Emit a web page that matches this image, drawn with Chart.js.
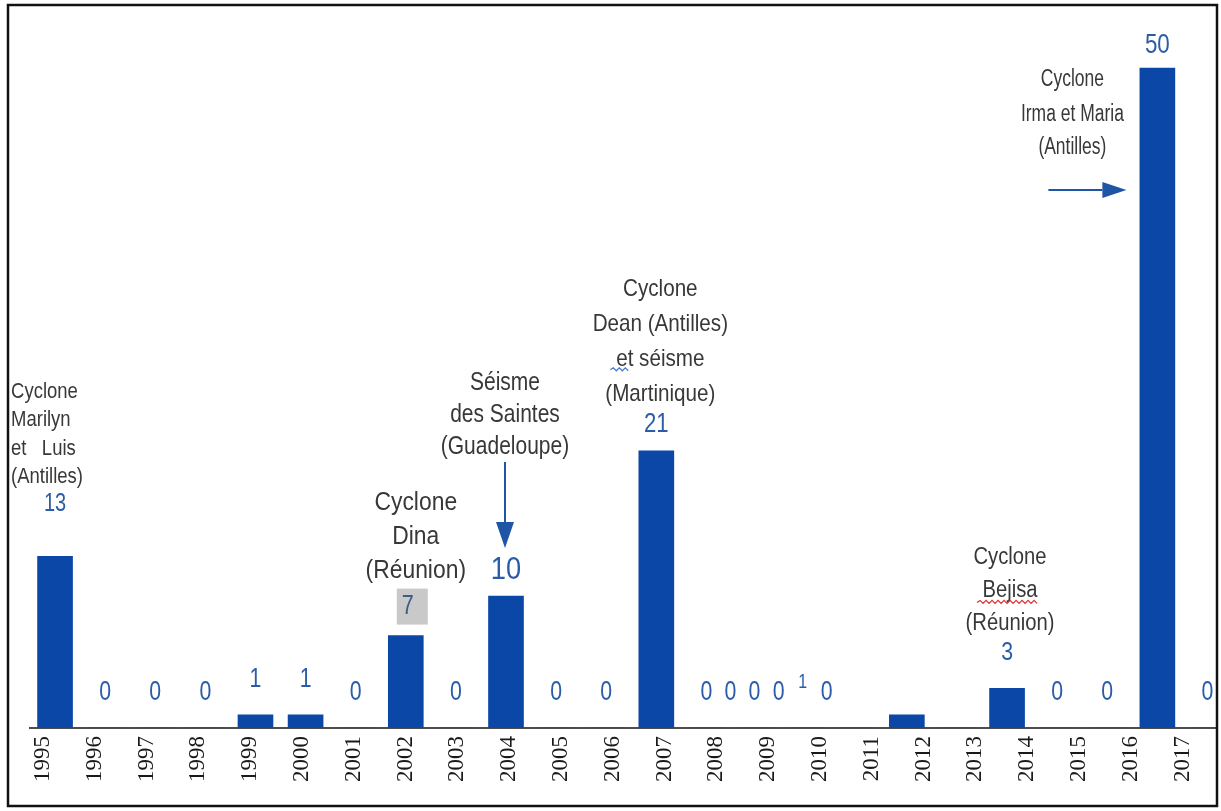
<!DOCTYPE html>
<html lang="fr">
<head>
<meta charset="utf-8">
<title>Décès liés aux catastrophes naturelles en outre-mer</title>
<script src="https://cdn.jsdelivr.net/npm/chart.js@4.4.1/dist/chart.umd.min.js"></script>
<style>
  html, body { margin: 0; padding: 0; background: #ffffff; }
  #wrap { width: 1221px; height: 811px; position: relative; }
  canvas { display: block; }
</style>
</head>
<body>
<div id="wrap"><canvas id="chart" width="1221" height="811"></canvas></div>
<script>
// Années affichées sous l'axe
const axisYears = ['1995','1996','1997','1998','1999','2000','2001','2002','2003','2004','2005',
                   '2006','2007','2008','2009','2010','2011','2012','2013','2014','2015','2016','2017'];

// Années des barres (une case de plus à droite)
const barYears = ['1995','1996','1997','1998','1999','2000','2001','2002','2003','2004','2005',
                  '2006','2007','2008','2009','2010','2011','2012','2013','2014','2015','2016','2017','2018'];

// Nombre de décès par année
const deaths = [13, 0, 0, 0, 1, 1, 0, 7, 0, 10, 0, 0, 21, 0, 0, 0, 0, 1, 0, 3, 0, 0, 50, 0];

// Événements annotés
const eventMarilyn = ['Cyclone', 'Marilyn', 'et   Luis', '(Antilles)'];
const eventDina    = ['Cyclone', 'Dina', '(Réunion)'];
const eventSaintes = ['Séisme', 'des Saintes', '(Guadeloupe)'];
const eventDean    = ['Cyclone', 'Dean (Antilles)', 'et séisme', '(Martinique)'];
const eventBejisa  = ['Cyclone', 'Bejisa', '(Réunion)'];
const eventIrma    = ['Cyclone', 'Irma et Maria', '(Antilles)'];

const BAR_BLUE = '#0a47a6';
const LABEL_BLUE = '#2a5ca8';
const NOTE_GREY = '#383838';
const SANS = '"Liberation Sans", Arial, sans-serif';

// Texte condensé horizontalement
function drawText(ctx, str, x, y, size, sx, color, align) {
  ctx.save();
  ctx.translate(x, y);
  ctx.scale(sx, 1);
  ctx.font = size + 'px ' + SANS;
  ctx.textAlign = align || 'center';
  ctx.textBaseline = 'middle';
  ctx.fillStyle = color;
  ctx.fillText(str, 0, 0);
  ctx.restore();
}

function drawLines(ctx, lines, x, ys, size, sx, align) {
  lines.forEach((t, i) => drawText(ctx, t, x, ys[i], size, sx, NOTE_GREY, align));
}

function squiggle(ctx, x0, x1, y, color) {
  ctx.save();
  ctx.strokeStyle = color;
  ctx.lineWidth = 1.2;
  ctx.beginPath();
  let up = true;
  ctx.moveTo(x0, y);
  for (let x = x0 + 3; x <= x1; x += 3) {
    ctx.lineTo(x, up ? y - 2 : y + 1);
    up = !up;
  }
  ctx.stroke();
  ctx.restore();
}

function arrow(ctx, x0, y0, x1, y1, head, half) {
  const ang = Math.atan2(y1 - y0, x1 - x0);
  const bx = x1 - head * Math.cos(ang), by = y1 - head * Math.sin(ang);
  ctx.save();
  ctx.strokeStyle = '#1f55a5';
  ctx.fillStyle = '#1f55a5';
  ctx.lineWidth = 2;
  ctx.beginPath();
  ctx.moveTo(x0, y0);
  ctx.lineTo(bx, by);
  ctx.stroke();
  ctx.beginPath();
  ctx.moveTo(x1, y1);
  ctx.lineTo(bx + half * Math.sin(ang), by - half * Math.cos(ang));
  ctx.lineTo(bx - half * Math.sin(ang), by + half * Math.cos(ang));
  ctx.closePath();
  ctx.fill();
  ctx.restore();
}

// Position des étiquettes de valeur (2008-2013 resserrées)
function labelSlot(i) {
  if (i >= 13 && i <= 18) return 13 + 0.48 * (i - 13);
  return i;
}

// Réglages typographiques des étiquettes de valeur
const labelStyle = {
  0:  { size: 25, sx: 0.80, dy: -52 },
  7:  { size: 27, sx: 0.80, dy: -29, box: true },
  9:  { size: 31, sx: 0.88, dy: -26 },
  12: { size: 27, sx: 0.82, dy: -26 },
  17: { size: 20, sx: 0.80, dy: -32 },
  19: { size: 26, sx: 0.82, dy: -36 },
  22: { size: 28, sx: 0.80, dy: -23 }
};

const annotations = {
  id: 'annotations',
  afterDatasetsDraw(chart) {
    const ctx = chart.ctx;
    const xb = chart.scales.xb;
    const ys = chart.scales.y;
    const px = k => xb.getPixelForValue(k);
    const py = v => ys.getPixelForValue(v);

    // Cadre
    ctx.save();
    ctx.strokeStyle = '#111111';
    ctx.lineWidth = 2.5;
    ctx.strokeRect(8, 5, 1209, 801);
    ctx.restore();

    // Étiquettes de valeur
    deaths.forEach((v, i) => {
      const st = labelStyle[i] || { size: 28, sx: 0.76, dy: -36 };
      const x = px(labelSlot(i));
      const y = py(v) + st.dy;
      if (st.box) {
        ctx.save();
        ctx.fillStyle = '#c9c9c9';
        ctx.fillRect(x - 9, y - 18, 31, 36);
        ctx.restore();
        drawText(ctx, String(v), x + 2, y, st.size, st.sx, '#3f5b88');
      } else {
        drawText(ctx, String(v), x, y, st.size, st.sx, LABEL_BLUE);
      }
    });

    // Cyclone Marilyn et Luis
    let x = px(0), t = py(deaths[0]);
    drawLines(ctx, eventMarilyn, x - 44, [t - 164, t - 136, t - 107, t - 79], 22, 0.84, 'left');

    // Cyclone Dina
    x = px(7); t = py(deaths[7]);
    drawLines(ctx, eventDina, x + 10, [t - 133, t - 99, t - 65], 26, 0.88);

    // Séisme des Saintes
    x = px(9); t = py(deaths[9]);
    drawLines(ctx, eventSaintes, x - 1, [t - 213, t - 181, t - 149], 25, 0.84);
    arrow(ctx, x - 1, t - 134, x - 1, t - 48, 26, 9);

    // Cyclone Dean et séisme
    x = px(12); t = py(deaths[12]);
    drawLines(ctx, eventDean, x + 4, [t - 161, t - 126, t - 91, t - 56], 24, 0.86);
    squiggle(ctx, x - 46, x - 26, t - 81, '#4a78c8');

    // Cyclone Bejisa
    x = px(19); t = py(deaths[19]);
    drawLines(ctx, eventBejisa, x + 3, [t - 131, t - 98, t - 65], 23, 0.88);
    squiggle(ctx, x - 30, x + 30, t - 86, '#e03030');

    // Cyclones Irma et Maria
    x = px(22); t = py(deaths[22]);
    drawLines(ctx, eventIrma, x - 85, [t + 12, t + 47, t + 80], 23, 0.76);
    arrow(ctx, x - 109, t + 122, x - 31, t + 122, 24, 8);
  }
};

new Chart(document.getElementById('chart'), {
  type: 'bar',
  data: {
    datasets: [{
      label: 'Décès',
      data: deaths.map((v, i) => ({ x: i, y: v })),
      xAxisID: 'xb',
      yAxisID: 'y',
      backgroundColor: BAR_BLUE,
      borderWidth: 0,
      barThickness: 35
    }]
  },
  options: {
    responsive: false,
    animation: false,
    devicePixelRatio: 1,
    layout: { padding: { left: 30, right: 4, top: 0, bottom: 0 } },
    plugins: {
      legend: { display: false },
      title: { display: false },
      tooltip: { enabled: false }
    },
    scales: {
      xb: {
        type: 'linear',
        display: false,
        min: -0.5,
        max: 23.19,
        offset: false
      },
      x: {
        type: 'linear',
        position: 'bottom',
        min: -0.251,
        max: 22.664,
        offset: false,
        grid: { display: false, drawTicks: false },
        border: { display: true, color: '#4d4d4d', width: 2 },
        afterBuildTicks(scale) {
          scale.ticks = axisYears.map((_, i) => ({ value: i }));
        },
        afterFit(scale) {
          scale.height = 83;
          scale.paddingLeft = 0;
          scale.paddingRight = 0;
        },
        ticks: {
          autoSkip: false,
          minRotation: 90,
          maxRotation: 90,
          padding: 8,
          color: '#1a1a1a',
          font: { family: '"Liberation Serif", "Times New Roman", serif', size: 23 },
          callback: (v) => axisYears[v] !== undefined ? axisYears[v] : ''
        }
      },
      y: {
        display: false,
        min: 0,
        max: 55.15
      }
    }
  },
  plugins: [annotations]
});
</script>
</body>
</html>
